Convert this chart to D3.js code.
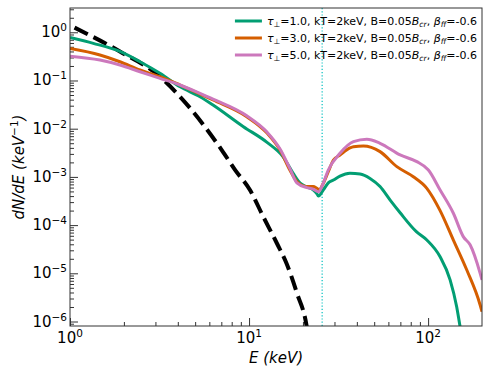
<!DOCTYPE html>
<html>
<head>
<meta charset="utf-8">
<script src="https://cdn.jsdelivr.net/npm/d3@7"></script>
<style>
  body { margin: 0; background: #fff; }
  text { font-family: "DejaVu Sans", sans-serif; }
</style>
</head>
<body>
<div id="chart"></div>
<script>
// ---------------------------------------------------------------- DATA -------- //
// seed thermal spectrum (black dashed)
const thermalE = [1.06, 1.9, 3.18, 4.12, 7.04, 8.35, 10.1, 12.0, 14.3, 16.2, 18.5, 21.0, 21.8];
const thermalN = [1.25, 0.40, 0.12, 0.046, 0.0036, 0.0014, 0.00054, 0.00015, 0.000042, 0.000016, 0.0000039, 0.00000078, 0.0000003];

// tau = 1.0
const tau1E = [1.0, 1.35, 1.9, 2.46, 3.18, 4.12, 5.32, 6.29, 9.3, 12.6, 15.5, 17.6, 19.3, 21.0, 22.8, 23.9, 24.4, 26.0, 27.7, 29.6, 32.2, 36.6, 41.7, 47.4, 53.9, 61.4, 69.8, 86.0, 98.4, 116.7, 132.7, 144.5, 150.9, 156];
const tau1N = [0.78, 0.59, 0.40, 0.245, 0.141, 0.074, 0.046, 0.031, 0.011, 0.0052, 0.0026, 0.0012, 0.00074, 0.00062, 0.00054, 0.00045, 0.00040, 0.00054, 0.00075, 0.00086, 0.00104, 0.00119, 0.00115, 0.00093, 0.00063, 0.00033, 0.00018, 0.000073, 0.000049, 0.000022, 0.0000073, 0.0000020, 0.00000078, 0.0000004];

// tau = 3.0
const tau3E = [1.0, 1.47, 1.9, 2.46, 3.18, 4.12, 6.29, 9.71, 12.6, 14.9, 16.9, 18.5, 21.0, 22.8, 23.9, 24.6, 26.0, 27.7, 29.6, 32.2, 36.6, 38.3, 43.5, 53.9, 66.9, 82.7, 98.4, 116.7, 138.4, 164.5, 195.3, 200];
const tau3N = [0.46, 0.338, 0.245, 0.165, 0.12, 0.0806, 0.0394, 0.0177, 0.0081, 0.0036, 0.00139, 0.00080, 0.00063, 0.00063, 0.00058, 0.00054, 0.00074, 0.00128, 0.00224, 0.00285, 0.0040, 0.00424, 0.00438, 0.00334, 0.00163, 0.00101, 0.00058, 0.0002, 0.000049, 0.0000117, 0.0000022, 0.0000016];

// tau = 5.0
const tau5E = [1.0, 1.47, 1.9, 2.46, 3.18, 4.12, 5.32, 6.29, 9.71, 12.6, 14.9, 16.9, 18.5, 21.0, 22.8, 24.4, 26.0, 27.7, 32.2, 38.3, 45.5, 53.9, 69.8, 86.5, 100.4, 116.7, 138.4, 157.5, 171.6, 195.3, 200];
const tau5N = [0.32, 0.266, 0.21, 0.152, 0.111, 0.0806, 0.054, 0.041, 0.0185, 0.0085, 0.0038, 0.0015, 0.00075, 0.0006, 0.00056, 0.00049, 0.00075, 0.00139, 0.00309, 0.00537, 0.00603, 0.00498, 0.00285, 0.00207, 0.00139, 0.000535, 0.000176, 0.000057, 0.000039, 0.00001, 0.0000073];

const seriesNames = ["1.0", "3.0", "5.0"];
const seriesColors = ["#029e73", "#d55e00", "#cc78bc"];
const cyclotronE = 25.6;   // dotted vertical line

const xMajorExp = [0, 1, 2];
const yMajorExp = [0, -1, -2, -3, -4, -5, -6];

// ---------------------------------------------------------------- SETUP ----------------------------- //
const W = 491, H = 374;
const margin = {top: 8, right: 9, bottom: 48, left: 70},
    width = W - margin.left - margin.right,
    height = H - margin.top - margin.bottom;

const svg = d3.select("#chart")
  .append("svg")
  .attr("width", W)
  .attr("height", H);

const g = svg.append("g")
  .attr("transform", "translate(" + margin.left + "," + margin.top + ")");

const x = d3.scaleLog().domain([1, 200]).range([0, width]);
const y = d3.scaleLog().domain([8.07e-7, 3.19]).range([height, 0]);

g.append("clipPath").attr("id", "clip")
  .append("rect").attr("width", width).attr("height", height);

// ---------------------------------------------------------------- AXES ------------------------------ //
function minorTicks(lo, hi) {
  const out = [];
  for (let e = lo; e <= hi; e++)
    for (let m = 2; m <= 9; m++) out.push(m * Math.pow(10, e));
  return out;
}
const xMinor = minorTicks(0, 2).filter(v => v < 200);
const yMinor = minorTicks(-7, 0).filter(v => v > 8.07e-7 && v < 3.19);

// minor ticks
g.append("g")
  .attr("transform", "translate(0," + height + ")")
  .call(d3.axisBottom(x).tickValues(xMinor).tickSize(-4).tickFormat(""))
  .call(a => a.select(".domain").remove());
g.append("g")
  .call(d3.axisLeft(y).tickValues(yMinor).tickSize(-4).tickFormat(""))
  .call(a => a.select(".domain").remove());

// major ticks
g.append("g")
  .attr("transform", "translate(0," + height + ")")
  .call(d3.axisBottom(x).tickValues(xMajorExp.map(e => Math.pow(10, e))).tickSize(-8).tickFormat(""))
  .call(a => a.select(".domain").remove());
g.append("g")
  .call(d3.axisLeft(y).tickValues(yMajorExp.map(e => Math.pow(10, e))).tickSize(-8).tickFormat(""))
  .call(a => a.select(".domain").remove());

g.selectAll(".tick line").attr("stroke", "#333").attr("stroke-width", 1);

function powLabel(sel, e) {
  sel.append("tspan").text("10");
  sel.append("tspan")
    .attr("dy", -6)
    .attr("font-size", "10.5px")
    .text(e < 0 ? "\u2212" + (-e) : String(e));
}

xMajorExp.forEach(function (e) {
  const t = g.append("text")
    .attr("x", x(Math.pow(10, e)))
    .attr("y", height + 17)
    .attr("text-anchor", "middle")
    .attr("font-size", "15px")
    .attr("fill", "#000");
  powLabel(t, e);
});

yMajorExp.forEach(function (e) {
  const t = g.append("text")
    .attr("x", -3)
    .attr("y", y(Math.pow(10, e)) + 5)
    .attr("text-anchor", "end")
    .attr("font-size", "15px")
    .attr("fill", "#000");
  powLabel(t, e);
});

// axis titles
svg.append("text")
  .attr("x", margin.left + width / 2)
  .attr("y", 363)
  .attr("text-anchor", "middle")
  .attr("font-size", "15px")
  .attr("font-style", "italic")
  .text("E (keV)");

const yt = svg.append("text")
  .attr("transform", "translate(24," + (margin.top + height / 2) + ") rotate(-90)")
  .attr("text-anchor", "middle")
  .attr("font-size", "15px")
  .attr("font-style", "italic");
yt.append("tspan").text("dN/dE (keV");
yt.append("tspan").attr("dy", -6).attr("font-size", "10.5px").attr("font-style", "normal").text("\u22121");
yt.append("tspan").attr("dy", 6).text(")");

// ---------------------------------------------------------------- LINES ----------------------------- //
const plot = g.append("g").attr("clip-path", "url(#clip)");

const line = d3.line()
  .x(d => x(d[0]))
  .y(d => y(d[1]))
  .curve(d3.curveMonotoneX);

plot.append("line")
  .attr("x1", x(cyclotronE)).attr("x2", x(cyclotronE))
  .attr("y1", 0).attr("y2", height)
  .attr("stroke", "#00bfbf")
  .attr("stroke-width", 1.2)
  .attr("stroke-dasharray", "1.2,2");

plot.append("path")
  .datum(thermalE.map((e, i) => [e, thermalN[i]]))
  .attr("d", line)
  .attr("fill", "none")
  .attr("stroke", "#000")
  .attr("stroke-width", 4)
  .attr("stroke-dasharray", "14.8,6.4");

const series = [
  tau1E.map((e, i) => [e, tau1N[i]]),
  tau3E.map((e, i) => [e, tau3N[i]]),
  tau5E.map((e, i) => [e, tau5N[i]])
];

series.forEach(function (s, i) {
  plot.append("path")
    .datum(s)
    .attr("d", line)
    .attr("fill", "none")
    .attr("stroke", seriesColors[i])
    .attr("stroke-width", 3)
    .attr("stroke-linejoin", "round");
});

// frame
g.append("rect")
  .attr("width", width).attr("height", height)
  .attr("fill", "none")
  .attr("stroke", "#333")
  .attr("stroke-width", 1);

// ---------------------------------------------------------------- LEGEND ---------------------------- //
// anchored upper right: text ends a few px inside the right spine
const legend = g.append("g").attr("transform", "translate(0," + (21 - margin.top) + ")");
const fs = 11, sub = 7.7;
const rows = [];

seriesNames.forEach(function (name, i) {
  const row = legend.append("g").attr("transform", "translate(0," + (i * 17) + ")");
  const t = row.append("text")
    .attr("y", 4)
    .attr("font-size", fs + "px")
    .attr("fill", "#000");
  t.append("tspan").attr("font-style", "italic").text("\u03c4");
  t.append("tspan").attr("font-size", sub + "px").attr("dy", 2).text("\u22a5");
  t.append("tspan").attr("dy", -2).text("=" + name + ", kT=2keV, B=0.05");
  t.append("tspan").attr("font-style", "italic").text("B");
  t.append("tspan").attr("font-style", "italic").attr("font-size", sub + "px").attr("dy", 2).text("cr");
  t.append("tspan").attr("dy", -2).text(", ");
  t.append("tspan").attr("font-style", "italic").text("\u03b2");
  t.append("tspan").attr("font-style", "italic").attr("font-size", sub + "px").attr("dy", 2).text("ff");
  t.append("tspan").attr("dy", -2).text("=-0.6");
  rows.push({row: row, text: t});
});

const textW = d3.max(rows, r => r.text.node().getComputedTextLength());
const textX = width - 5 - textW;
rows.forEach(function (r, i) {
  r.text.attr("x", textX);
  r.row.append("line")
    .attr("x1", textX - 32).attr("x2", textX - 5)
    .attr("stroke", seriesColors[i])
    .attr("stroke-width", 3);
});
</script>
</body>
</html>
